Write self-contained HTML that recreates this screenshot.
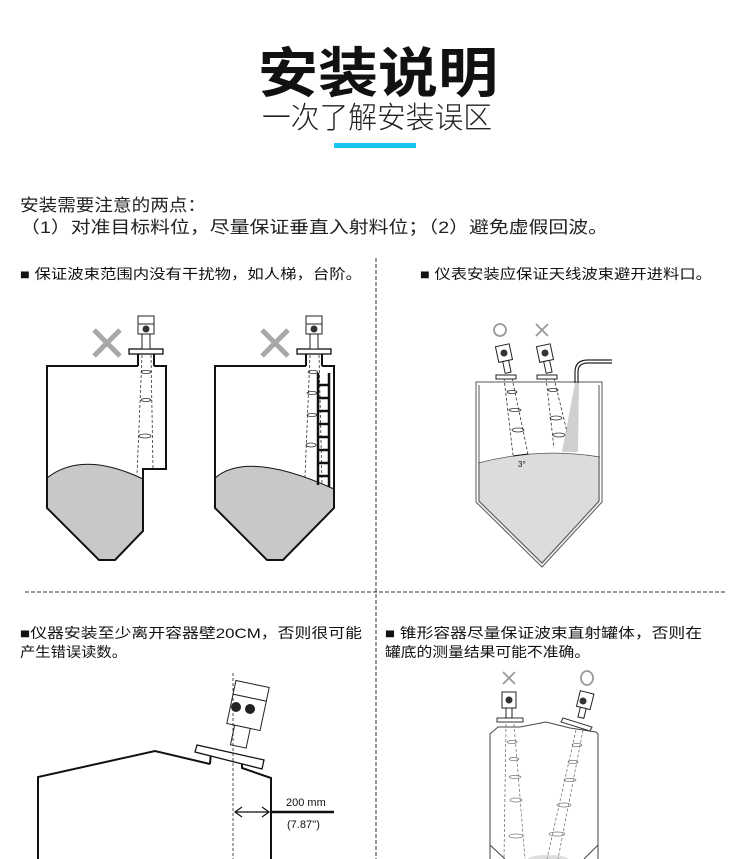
<!DOCTYPE html>
<html><head><meta charset="utf-8"><style>
html,body{margin:0;padding:0;background:#fff;}
svg{display:block;}
text{font-family:"Liberation Sans","Noto Sans CJK SC",sans-serif;}
</style></head><body>
<svg width="750" height="859" viewBox="0 0 750 859" xmlns="http://www.w3.org/2000/svg">
<!-- title -->
<text x="258" y="92" font-size="54" font-weight="bold" textLength="240" lengthAdjust="spacingAndGlyphs" fill="#111">安装说明</text>
<text x="262" y="128" font-size="30" font-weight="300" textLength="230" lengthAdjust="spacingAndGlyphs" fill="#222">一次了解安装误区</text>
<rect x="334" y="143" width="82" height="5" fill="#16c5ee"/>
<text x="20" y="211" font-size="17" textLength="186" lengthAdjust="spacingAndGlyphs" fill="#222">安装需要注意的两点：</text>
<text x="20" y="233" font-size="17" textLength="588" lengthAdjust="spacingAndGlyphs" fill="#222">（1）对准目标料位，尽量保证垂直入射料位；（2）避免虚假回波。</text>
<text x="20" y="279" font-size="14" textLength="342" lengthAdjust="spacingAndGlyphs" fill="#111">■ 保证波束范围内没有干扰物，如人梯，台阶。</text>
<text x="420" y="279" font-size="14" textLength="292" lengthAdjust="spacingAndGlyphs" fill="#111">■ 仪表安装应保证天线波束避开进料口。</text>
<text x="20" y="638" font-size="14" textLength="342" lengthAdjust="spacingAndGlyphs" fill="#111">■仪器安装至少离开容器壁20CM，否则很可能</text>
<text x="20" y="657" font-size="14" textLength="107" lengthAdjust="spacingAndGlyphs" fill="#111">产生错误读数。</text>
<text x="385" y="638" font-size="14" textLength="317" lengthAdjust="spacingAndGlyphs" fill="#111">■ 锥形容器尽量保证波束直射罐体，否则在</text>
<text x="385" y="657" font-size="14" textLength="205" lengthAdjust="spacingAndGlyphs" fill="#111">罐底的测量结果可能不准确。</text>
<!-- dividers -->
<line x1="376" y1="258" x2="376" y2="859" stroke="#333" stroke-width="1" stroke-dasharray="4,2"/>
<line x1="25" y1="592" x2="725" y2="592" stroke="#333" stroke-width="1" stroke-dasharray="4,2"/>

<!-- diagram 1 -->
<path d="M47,478 Q82,450 143,479 L143,531 L115,560 L99,560 L47,508Z" fill="#c8c8c8"/>
<path d="M138,366 L47,366 L47,508 L99,560 L115,560 L143,531 L143,469 L166,469 L166,366 L154,366 M138,366 L138,354 M154,366 L154,354" fill="none" stroke="#111" stroke-width="2"/>
<path d="M47,478 Q82,450 143,479" fill="none" stroke="#111" stroke-width="1"/>
<rect x="129" y="349" width="34" height="5" fill="#fff" stroke="#111" stroke-width="1.3"/>
<g stroke="#333" stroke-width="0.8" fill="none" stroke-dasharray="3,2"><line x1="142" y1="355" x2="137" y2="475"/><line x1="151" y1="355" x2="153" y2="468"/></g>
<g stroke="#333" stroke-width="0.8" fill="none"><ellipse cx="146" cy="372" rx="5" ry="1.5"/><ellipse cx="146" cy="400" rx="5" ry="1.5"/><ellipse cx="145" cy="436" rx="6" ry="2"/></g>
<g stroke="#222" stroke-width="1" fill="#fff"><rect x="138" y="316" width="16" height="8"/><rect x="138" y="324" width="16" height="10"/><rect x="142" y="334" width="8" height="15"/></g>
<circle cx="146" cy="329" r="3.5" fill="#333"/>
<path d="M94,330 L120,356 M120,330 L94,356" stroke="#a8a8a8" stroke-width="5"/>

<!-- diagram 2 -->
<path d="M215,478 Q248,450 334,489 L334,508 L283,560 L267,560 L215,508Z" fill="#c8c8c8"/>
<path d="M306,366 L215,366 L215,508 L267,560 L283,560 L334,508 L334,366 L322,366 M306,366 L306,354 M322,366 L322,354" fill="none" stroke="#111" stroke-width="2"/>
<path d="M215,478 Q248,450 334,489" fill="none" stroke="#111" stroke-width="1"/>
<rect x="297" y="349" width="34" height="5" fill="#fff" stroke="#111" stroke-width="1.3"/>
<g stroke="#333" stroke-width="0.8" fill="none" stroke-dasharray="3,2"><line x1="310" y1="355" x2="305" y2="477"/><line x1="319" y1="355" x2="322" y2="485"/></g>
<g stroke="#333" stroke-width="0.8" fill="none"><ellipse cx="313" cy="372" rx="5" ry="1.5"/><ellipse cx="312" cy="393" rx="5" ry="1.5"/><ellipse cx="312" cy="415" rx="5" ry="1.5"/><ellipse cx="311" cy="445" rx="5" ry="2"/></g>
<g stroke="#111" stroke-width="2.5" fill="none"><line x1="318" y1="373" x2="318" y2="485"/><line x1="329" y1="373" x2="329" y2="487"/>
<line x1="318" y1="385" x2="329" y2="385"/><line x1="318" y1="398" x2="329" y2="398"/><line x1="318" y1="411" x2="329" y2="411"/><line x1="318" y1="424" x2="329" y2="424"/><line x1="318" y1="437" x2="329" y2="437"/><line x1="318" y1="450" x2="329" y2="450"/><line x1="318" y1="463" x2="329" y2="463"/><line x1="318" y1="476" x2="329" y2="476"/></g>
<g stroke="#222" stroke-width="1" fill="#fff"><rect x="306" y="316" width="16" height="8"/><rect x="306" y="324" width="16" height="10"/><rect x="310" y="334" width="8" height="15"/></g>
<circle cx="314" cy="329" r="3.5" fill="#333"/>
<path d="M262,330 L288,356 M288,330 L262,356" stroke="#a8a8a8" stroke-width="5"/>

<!-- diagram 3 -->
<path d="M478,463 Q540,447 600,457 L600,502 L542,565 L478,502Z" fill="#dcdcdc"/>
<polygon points="575,383 579,383 578,452 562,452" fill="#d0d0d0"/>
<path d="M476,382 L476,502 L542,567 L602,502 L602,382 Z" fill="none" stroke="#555" stroke-width="1"/>
<path d="M479,385 L479,501 L542,563 L599,501 L599,385" fill="none" stroke="#555" stroke-width="1"/>
<line x1="476" y1="382" x2="602" y2="382" stroke="#555" stroke-width="1"/>
<path d="M478,463 Q540,447 600,457" fill="none" stroke="#555" stroke-width="0.8"/>
<path d="M575,383 L575,372 Q575,360 588,360 L612,360 M578,383 L578,372 Q578,363 588,363 L612,363" fill="none" stroke="#222" stroke-width="1.2"/>
<g stroke="#333" stroke-width="0.8" fill="none" stroke-dasharray="3,2">
<line x1="504" y1="378" x2="513" y2="455"/><line x1="512" y1="378" x2="528" y2="454"/>
<line x1="546" y1="378" x2="554" y2="448"/><line x1="554" y1="378" x2="567" y2="432"/></g>
<g stroke="#333" stroke-width="0.8" fill="none"><ellipse cx="512" cy="392" rx="5" ry="1.5"/><ellipse cx="515" cy="410" rx="6" ry="1.5"/><ellipse cx="518" cy="430" rx="6" ry="2"/>
<ellipse cx="553" cy="390" rx="5" ry="1.5"/><ellipse cx="556" cy="418" rx="6" ry="2"/><ellipse cx="559" cy="435" rx="6" ry="2"/></g>
<rect x="496" y="375" width="20" height="4" fill="#fff" stroke="#222"/>
<rect x="537" y="375" width="20" height="4" fill="#fff" stroke="#222"/>
<g stroke="#222" stroke-width="1" fill="#fff" transform="rotate(-12 505 358)"><rect x="498" y="345" width="14" height="16"/><rect x="502" y="361" width="6" height="12"/></g>
<g stroke="#222" stroke-width="1" fill="#fff" transform="rotate(-12 546 358)"><rect x="539" y="345" width="14" height="16"/><rect x="543" y="361" width="6" height="12"/></g>
<circle cx="504" cy="353" r="3.5" fill="#333"/><circle cx="545" cy="353" r="3.5" fill="#333"/>
<path d="M513,456 L528,454" stroke="#111" stroke-width="1"/>
<text x="518" y="467" font-size="8" fill="#111">3°</text>
<circle cx="500" cy="330" r="6" fill="none" stroke="#999" stroke-width="1.8"/>
<path d="M536,324 L548,336 M548,324 L536,336" stroke="#999" stroke-width="1.8"/>

<!-- diagram 4 -->
<path d="M38,859 L38,777 L155,751 L210,764 M210,764 L211,752 M242,755 L242,768 L271,778 L271,859" fill="none" stroke="#111" stroke-width="2"/>
<polygon points="197,745 264,760 262,769 195,752" fill="#fff" stroke="#111" stroke-width="1.3"/>
<g stroke="#222" stroke-width="1" fill="#fff" transform="rotate(12 245 710)"><rect x="230" y="683" width="34" height="14"/><rect x="230" y="697" width="34" height="30"/><rect x="238" y="727" width="16" height="20"/></g>
<circle cx="236" cy="707" r="5" fill="#222"/><circle cx="250" cy="709" r="5" fill="#222"/>
<line x1="233" y1="673" x2="233" y2="859" stroke="#222" stroke-width="0.8" stroke-dasharray="3,2"/>
<line x1="236" y1="812" x2="268" y2="812" stroke="#111" stroke-width="1.2"/>
<path d="M242,807 L235,812 L242,817 M262,807 L269,812 L262,817" fill="none" stroke="#111" stroke-width="1.2"/>
<line x1="271" y1="812" x2="334" y2="812" stroke="#111" stroke-width="2.5"/>
<text x="286" y="806" font-size="11" fill="#111">200 mm</text>
<text x="287" y="828" font-size="11" fill="#111">(7.87'')</text>

<!-- diagram 5 -->
<path d="M490,859 L490,734 L498,727 L520,727 L546,722 L570,728 L596,732 L598,734 L598,859" fill="none" stroke="#444" stroke-width="1"/>
<path d="M490,845 L505,859 M598,845 L584,859" stroke="#444" stroke-width="1"/>
<ellipse cx="548" cy="859" rx="20" ry="4" fill="#ddd"/>
<rect x="497" y="718" width="26" height="4" fill="#fff" stroke="#333"/>
<polygon points="563,718 592,727 590,731 561,722" fill="#fff" stroke="#333"/>
<g stroke="#666" stroke-width="0.7" fill="none" stroke-dasharray="3,2">
<line x1="506" y1="724" x2="504" y2="859"/><line x1="514" y1="724" x2="525" y2="859"/>
<line x1="576" y1="730" x2="547" y2="859"/><line x1="583" y1="730" x2="558" y2="859"/></g>
<g stroke="#777" stroke-width="0.7" fill="none"><ellipse cx="512" cy="742" rx="5" ry="1.5"/><ellipse cx="514" cy="759" rx="5" ry="1.5"/><ellipse cx="515" cy="777" rx="6" ry="1.5"/><ellipse cx="516" cy="800" rx="6" ry="2"/><ellipse cx="516" cy="836" rx="7" ry="2"/>
<ellipse cx="577" cy="745" rx="5" ry="1.5"/><ellipse cx="573" cy="762" rx="5" ry="1.5"/><ellipse cx="570" cy="780" rx="6" ry="1.5"/><ellipse cx="564" cy="805" rx="7" ry="2"/><ellipse cx="557" cy="834" rx="8" ry="2"/></g>
<g stroke="#222" stroke-width="1" fill="#fff"><rect x="502" y="692" width="14" height="16"/><rect x="506" y="708" width="6" height="10"/></g>
<g stroke="#222" stroke-width="1" fill="#fff" transform="rotate(14 584 705)"><rect x="577" y="692" width="14" height="16"/><rect x="581" y="708" width="6" height="10"/></g>
<circle cx="509" cy="700" r="3.5" fill="#333"/><circle cx="583" cy="701" r="3.5" fill="#333"/>
<path d="M503,672 L515,684 M515,672 L503,684" stroke="#999" stroke-width="1.8"/>
<ellipse cx="587" cy="678" rx="6" ry="7" fill="none" stroke="#999" stroke-width="1.8"/>
</svg>
</body></html>
